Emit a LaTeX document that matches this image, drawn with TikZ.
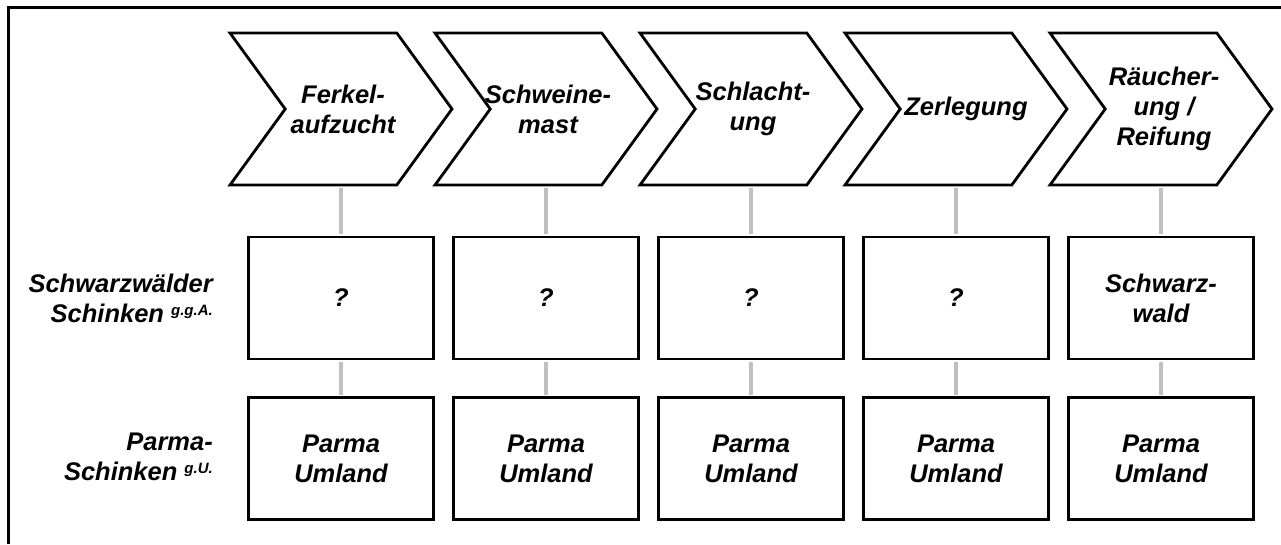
\documentclass[tikz,border=0pt]{standalone}
\usepackage{fontspec}
\setmainfont{Liberation Sans}
\usetikzlibrary{shapes.symbols}

\definecolor{linkgray}{RGB}{192,192,192}
\newcommand{\chainfont}{\fontsize{25.5}{30}\selectfont\bfseries\itshape}
\newcommand{\supmark}[1]{\raisebox{7pt}{\fontsize{15}{15}\selectfont #1}}

\tikzset{
	stage/.style={signal, signal from=west, signal to=east, signal pointer angle=108,
		draw, line width=2.8pt, minimum width=222pt, minimum height=152pt, inner sep=0pt},
	stagetext/.style={align=center, font=\chainfont, inner sep=0pt},
	place/.style={rectangle, draw, line width=2.8pt, minimum width=185pt,
		minimum height=122pt, align=center, font=\chainfont},
	rowlabel/.style={anchor=east, align=right, font=\chainfont, inner sep=0pt},
	link/.style={draw=linkgray, line width=3.2pt, shorten <=1.4pt, shorten >=1.4pt},
	frame/.style={draw, line width=2.8pt}
}

\begin{document}
\begin{tikzpicture}[x=1pt, y=-1pt]
	\useasboundingbox (0, 0) rectangle (1281, 544);

	\draw[frame] (8.5, 544) -- (8.5, 7.5) -- (1281, 7.5);

	\node[stage] (s1) at (341, 109) {};
	\node[stage] (s2) at (546, 109) {};
	\node[stage] (s3) at (751, 109) {};
	\node[stage] (s4) at (956, 109) {};
	\node[stage] (s5) at (1161, 109) {};

	\node[stagetext] (t1) at ([xshift=2pt]s1.center) {Ferkel-\\aufzucht};
	\node[stagetext] (t2) at ([xshift=2pt]s2.center) {Schweine-\\mast};
	\node[stagetext] (t3) at ([xshift=2pt]s3.center) {Schlacht-\\ung};
	\node[stagetext] (t4) at ([xshift=10pt]s4.center) {Zerlegung};
	\node[stagetext] (t5) at ([xshift=3pt]s5.center) {Räucher-\\ung /\\Reifung};

	\node[place] (a1) at (341, 298) {?};
	\node[place] (a2) at (546, 298) {?};
	\node[place] (a3) at (751, 298) {?};
	\node[place] (a4) at (956, 298) {?};
	\node[place] (a5) at (1161, 298) {Schwarz-\\wald};

	\node[place] (b1) at (341, 458.5) {Parma\\Umland};
	\node[place] (b2) at (546, 458.5) {Parma\\Umland};
	\node[place] (b3) at (751, 458.5) {Parma\\Umland};
	\node[place] (b4) at (956, 458.5) {Parma\\Umland};
	\node[place] (b5) at (1161, 458.5) {Parma\\Umland};

	\node[rowlabel] (schwarz) at (213, 298) {Schwarzwälder\\Schinken \supmark{g.g.A.}};
	\node[rowlabel] (parma) at (213, 457) {Parma-\\Schinken \supmark{g.U.}};

	\draw[link] (s1.south) -- (a1.north);
	\draw[link] (s2.south) -- (a2.north);
	\draw[link] (s3.south) -- (a3.north);
	\draw[link] (s4.south) -- (a4.north);
	\draw[link] (s5.south) -- (a5.north);
	\draw[link] (a1.south) -- (b1.north);
	\draw[link] (a2.south) -- (b2.north);
	\draw[link] (a3.south) -- (b3.north);
	\draw[link] (a4.south) -- (b4.north);
	\draw[link] (a5.south) -- (b5.north);

\end{tikzpicture}
\end{document}
